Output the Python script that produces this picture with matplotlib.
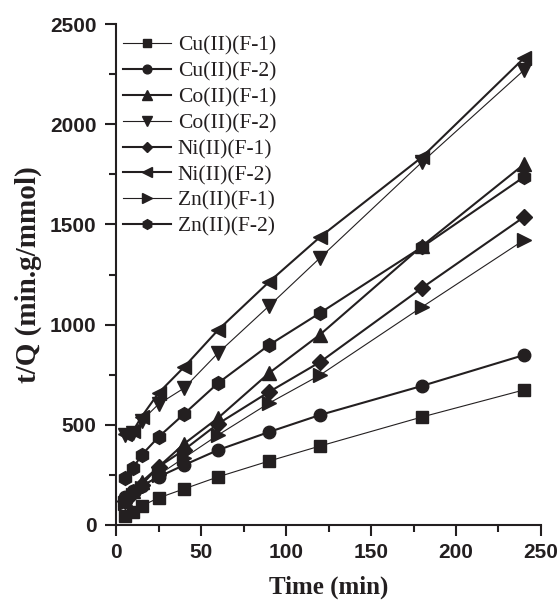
import numpy as np
import matplotlib.pyplot as plt
from matplotlib.ticker import MultipleLocator

# tiempos de contacto (min)
t = [5, 10, 15, 25, 40, 60, 90, 120, 180, 240]

# t/Q (min.g/mmol)
cu_f1 = [45, 65, 95, 135, 180, 240, 319, 394, 539, 674]
cu_f2 = [140, 170, 195, 240, 299, 374, 464, 549, 694, 848]
co_f1 = [130, 170, 215, 290, 405, 534, 758, 950, 1392, 1800]
co_f2 = [450, 460, 520, 603, 683, 858, 1093, 1333, 1811, 2270]
ni_f1 = [120, 160, 200, 290, 375, 505, 664, 813, 1183, 1537]
ni_f2 = [455, 470, 540, 659, 788, 973, 1213, 1437, 1836, 2330]
zn_f1 = [110, 150, 185, 250, 335, 449, 608, 748, 1088, 1422]
zn_f2 = [234, 284, 349, 439, 554, 708, 898, 1058, 1387, 1737]

series = [
    ("Cu(II)(F-1)", cu_f1, "s", 0.8),
    ("Cu(II)(F-2)", cu_f2, "o", 1.5),
    ("Co(II)(F-1)", co_f1, "^", 1.5),
    ("Co(II)(F-2)", co_f2, "v", 0.8),
    ("Ni(II)(F-1)", ni_f1, "D", 1.5),
    ("Ni(II)(F-2)", ni_f2, "<", 1.5),
    ("Zn(II)(F-1)", zn_f1, ">", 0.8),
    ("Zn(II)(F-2)", zn_f2, "h", 1.5),
]

col = "#231f20"
sizes = {"s": 8, "o": 9, "^": 9.5, "v": 9.5, "D": 8, "<": 9.5, ">": 9.5, "h": 10}

fig = plt.figure(figsize=(5.58, 6.01), dpi=100)
ax = fig.add_axes([0.208, 0.1265, 0.7615, 0.8335])

for lab, y, m, lw in series:
    ax.plot(t, y, marker=m, color=col, lw=lw, ms=sizes[m], label=lab)

ax.set_xlim(0, 250)
ax.set_ylim(0, 2500)
ax.spines["top"].set_visible(False)
ax.spines["right"].set_visible(False)
for s in ["left", "bottom"]:
    ax.spines[s].set_linewidth(1.5)
    ax.spines[s].set_color(col)

ax.xaxis.set_major_locator(MultipleLocator(50))
ax.xaxis.set_minor_locator(MultipleLocator(25))
ax.yaxis.set_major_locator(MultipleLocator(500))
ax.yaxis.set_minor_locator(MultipleLocator(250))
ax.tick_params(which="major", direction="out", length=8, width=1.5, color=col)
ax.tick_params(which="minor", direction="out", length=5, width=1.5, color=col)
ax.tick_params(axis="x", pad=5)
ax.tick_params(axis="y", pad=6)
for lbl in ax.get_xticklabels() + ax.get_yticklabels():
    lbl.set_fontfamily("Liberation Sans")
    lbl.set_fontweight("bold")
    lbl.set_fontsize(15)
    lbl.set_color(col)

ax.set_xlabel("Time (min)", family="Liberation Serif", weight="bold", fontsize=18, color=col, labelpad=10)
ax.set_ylabel("t/Q (min.g/mmol)", family="Liberation Serif", weight="bold", fontsize=21, color=col, labelpad=6)

leg = ax.legend(loc="upper left", bbox_to_anchor=(0.0, 0.99), frameon=False,
                prop={"family": "Liberation Serif", "size": 15.5},
                handlelength=2.23, handletextpad=0.33, labelspacing=0.27,
                borderpad=0, borderaxespad=0.3, markerscale=0.7)
for txt in leg.get_texts():
    txt.set_color(col)

fig.savefig("out.png", dpi=100)
